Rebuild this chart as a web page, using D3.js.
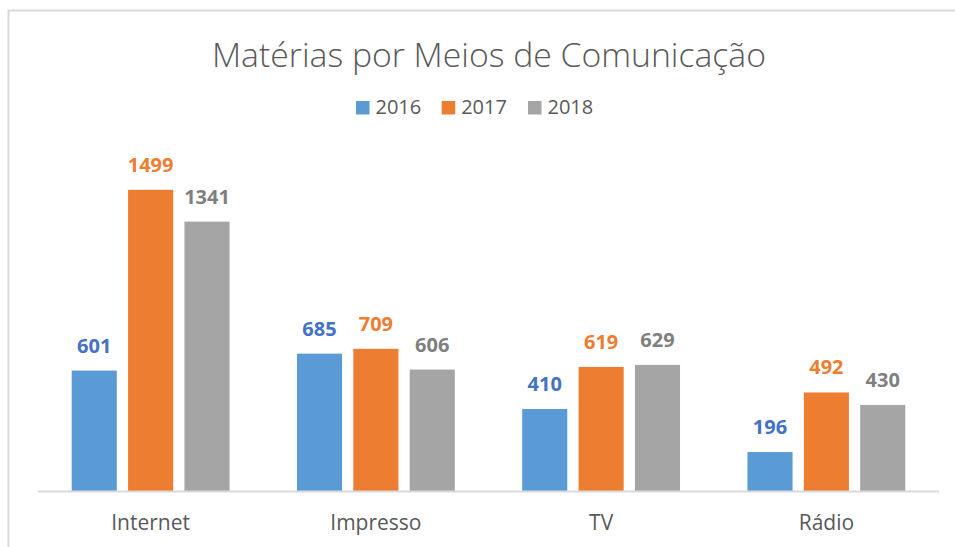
<!DOCTYPE html>
<html>
<head>
<meta charset="utf-8">
<script src="https://cdn.jsdelivr.net/npm/d3@7"></script>
<style>
  html, body { margin: 0; padding: 0; background: #fff; }
  svg { display: block; }
</style>
</head>
<body>
<svg id="chart" width="955" height="547"></svg>
<script>
const title = "Matérias por Meios de Comunicação";
const categories = ["Internet", "Impresso", "TV", "Rádio"];
const years = ["2016", "2017", "2018"];
const values2016 = [601, 685, 410, 196];
const values2017 = [1499, 709, 619, 492];
const values2018 = [1341, 606, 629, 430];
const seriesValues = [values2016, values2017, values2018];
const barColors = ["#5B9BD5", "#ED7D31", "#A5A5A5"];
const labelColors = ["#4472C4", "#ED7D31", "#7F7F7F"];
const yMax = 1600;

const svg = d3.select("#chart");
const font = "'Open Sans', 'DejaVu Sans', sans-serif";
const textColor = "#595959";

// outer border (chart area frame)
svg.append("path")
  .attr("d", "M8.5,547 L8.5,10.5 L955,10.5")
  .attr("fill", "none")
  .attr("stroke", "#D9D9D9")
  .attr("stroke-width", 2);

const plot = { left: 38, right: 939, top: 169.5, bottom: 491.5 };

const x0 = d3.scaleBand().domain(categories).range([plot.left, plot.right]).padding(0);
const groupMargin = 33.7;
const x1 = d3.scaleBand().domain(years)
  .range([groupMargin, x0.bandwidth() - groupMargin])
  .paddingInner(0.2).paddingOuter(0);
const y = d3.scaleLinear().domain([0, yMax]).range([plot.bottom, plot.top]);

// title
const t = svg.append("text")
  .attr("x", 489).attr("y", 67)
  .attr("text-anchor", "middle")
  .attr("font-family", font)
  .attr("font-weight", 300)
  .attr("font-size", 33)
  .attr("fill", textColor)
  .text(title);
const tw = t.node().getComputedTextLength();
if (Math.abs(tw - 554) > 3) {
  t.attr("textLength", 554).attr("lengthAdjust", "spacingAndGlyphs");
}

// legend
const legendX = [356, 441.7, 528];
const lg = svg.append("g");
years.forEach((yr, i) => {
  lg.append("rect")
    .attr("x", legendX[i]).attr("y", 101)
    .attr("width", 13.5).attr("height", 13.5)
    .attr("fill", barColors[i]);
  lg.append("text")
    .attr("x", legendX[i] + 19.5).attr("y", 114.3)
    .attr("font-family", font)
    .attr("font-size", 20)
    .attr("fill", textColor)
    .text(yr);
});

// bars
const groups = svg.append("g").selectAll("g")
  .data(categories)
  .join("g")
  .attr("transform", d => `translate(${x0(d)},0)`);

groups.each(function(cat, ci) {
  const g = d3.select(this);
  years.forEach((yr, si) => {
    const v = seriesValues[si][ci];
    g.append("rect")
      .attr("x", x1(yr))
      .attr("y", y(v))
      .attr("width", x1.bandwidth())
      .attr("height", y(0) - y(v))
      .attr("fill", barColors[si]);
    g.append("text")
      .attr("x", x1(yr) + x1.bandwidth() / 2)
      .attr("y", y(v) - 18)
      .attr("text-anchor", "middle")
      .attr("font-family", font)
      .attr("font-weight", 700)
      .attr("font-size", 20)
      .attr("fill", labelColors[si])
      .text(v);
  });
});

// x axis
const xAxis = d3.axisBottom(x0).tickSize(0).tickPadding(0);
const ax = svg.append("g")
  .attr("transform", `translate(0,${plot.bottom})`)
  .call(xAxis);
ax.select(".domain")
  .attr("stroke", "#D9D9D9")
  .attr("stroke-width", 2)
  .attr("d", `M${plot.left},0H${plot.right}`);
ax.selectAll(".tick text")
  .attr("font-family", font)
  .attr("font-size", 21)
  .attr("fill", textColor)
  .attr("dy", null)
  .attr("y", 38.5);
</script>
</body>
</html>
